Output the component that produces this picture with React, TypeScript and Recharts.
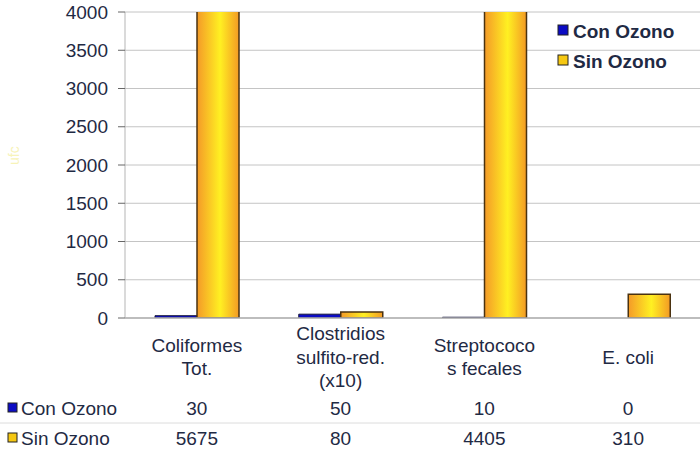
import React from "react";
import {
  BarChart,
  Bar,
  XAxis,
  YAxis,
  CartesianGrid,
  Legend,
} from "recharts";

const categories = ["Coliformes Tot.", "Clostridios sulfito-red. (x10)", "Streptococos fecales", "E. coli"];
const categoryLines = [
  ["Coliformes", "Tot."],
  ["Clostridios", "sulfito-red.", "(x10)"],
  ["Streptococo", "s fecales"],
  ["E. coli"],
];
const conOzono = [30, 50, 10, 0];
const sinOzono = [5675, 80, 4405, 310];
const yTicks = [0, 500, 1000, 1500, 2000, 2500, 3000, 3500, 4000];
const seriesNames = ["Con Ozono", "Sin Ozono"];

const data = categories.map((cat, i) => ({
  cat,
  con: conOzono[i],
  sin: sinOzono[i],
}));

const FONT = "'Liberation Sans', Arial, sans-serif";
const TEXT = "#1f2a44";
const BLUE = "#0c0cc4";
const YELLOW = "#f6c812";

function CatTick({ x, y, index }: any) {
  const lines = categoryLines[index] || [];
  const lh = 23.5;
  const top = y + 39 - ((lines.length - 1) * lh) / 2;
  return (
    <g>
      {lines.map((l, k) => (
        <text
          key={k}
          x={x}
          y={top + k * lh}
          textAnchor="middle"
          dominantBaseline="central"
          fontSize={19}
          fontFamily={FONT}
          fill={TEXT}
        >
          {l}
        </text>
      ))}
    </g>
  );
}

function RowLabel({ y, name, color }: { y: number; name: string; color: string }) {
  return (
    <g>
      <rect x={8} y={y - 5} width={9} height={9} fill={color} stroke="#222" strokeWidth={1} />
      <text x={21} y={y} dominantBaseline="central" fontSize={19} fontFamily={FONT} fill={TEXT}>
        {name}
      </text>
    </g>
  );
}

function ConTick({ x, y, index }: any) {
  const cy = y + 10;
  return (
    <g>
      {index === 0 && <RowLabel y={cy} name={seriesNames[0]} color={BLUE} />}
      <text x={x} y={cy} textAnchor="middle" dominantBaseline="central" fontSize={19} fontFamily={FONT} fill={TEXT}>
        {conOzono[index]}
      </text>
    </g>
  );
}

function SinTick({ x, y, index }: any) {
  const cy = y + 15;
  return (
    <g>
      {index === 0 && (
        <>
          <line x1={0} x2={700} y1={y} y2={y} stroke="#dcdcdc" strokeWidth={1} />
          <RowLabel y={cy} name={seriesNames[1]} color={YELLOW} />
        </>
      )}
      <text x={x} y={cy} textAnchor="middle" dominantBaseline="central" fontSize={19} fontFamily={FONT} fill={TEXT}>
        {sinOzono[index]}
      </text>
    </g>
  );
}

function TopLegend() {
  const items = [
    { name: seriesNames[0], color: BLUE },
    { name: seriesNames[1], color: YELLOW },
  ];
  return (
    <svg width={160} height={70} style={{ overflow: "visible", display: "block" }}>
      {items.map((it, i) => (
        <g key={it.name} transform={`translate(0, ${i * 30})`}>
          <rect x={3} y={7} width={10} height={10} fill={it.color} stroke="#222" strokeWidth={1} />
          <text x={18} y={13} dominantBaseline="central" fontSize={19} fontWeight="bold" fontFamily={FONT} fill={TEXT}>
            {it.name}
          </text>
        </g>
      ))}
    </svg>
  );
}

export default function App() {
  return (
    <div style={{ position: "absolute", left: 0, top: 0, width: 700, height: 455, background: "#fff" }}>
      <BarChart
        width={700}
        height={455}
        data={data}
        margin={{ top: 12, right: 0, left: 0, bottom: 3 }}
        barGap={0}
        barSize={42}
      >
        <defs>
          <linearGradient id="gradSin" x1="0" y1="0" x2="1" y2="0">
            <stop offset="0%" stopColor="#f49a28" />
            <stop offset="55%" stopColor="#fff022" />
            <stop offset="100%" stopColor="#f39a24" />
          </linearGradient>
        </defs>
        <CartesianGrid vertical={false} stroke="#c4c4c4" />
        <XAxis
          xAxisId="cat"
          dataKey="cat"
          height={80}
          tickSize={0}
          tickMargin={0}
          tickLine={false}
          axisLine={{ stroke: "#b0b0b0", strokeWidth: 1.5 }}
          tick={<CatTick />}
          interval={0}
        />
        <XAxis
          xAxisId="con"
          dataKey="cat"
          height={25}
          tickSize={0}
          tickMargin={0}
          tickLine={false}
          axisLine={false}
          tick={<ConTick />}
          interval={0}
        />
        <XAxis
          xAxisId="sin"
          dataKey="cat"
          height={29}
          tickSize={0}
          tickMargin={0}
          tickLine={false}
          axisLine={false}
          tick={<SinTick />}
          interval={0}
        />
        <YAxis
          width={125}
          domain={[0, 4000]}
          ticks={yTicks}
          allowDataOverflow
          tickSize={7}
          tickMargin={10}
          tickLine={{ stroke: "#666" }}
          axisLine={{ stroke: "#b5b5b5" }}
          tick={{ fontSize: 19, fontFamily: FONT, fill: TEXT }}
          label={{
            value: "ufc",
            angle: -90,
            position: "insideLeft",
            offset: 14,
            fill: "#f7f3b8",
            fontSize: 14,
            fontFamily: FONT,
          }}
        />
        <Legend
          verticalAlign="middle"
          align="center"
          layout="horizontal"
          content={<TopLegend />}
          wrapperStyle={{ position: "absolute", left: 555, top: 18, width: 160, height: 70 }}
        />
        <Bar
          xAxisId="cat"
          dataKey="con"
          name={seriesNames[0]}
          fill={BLUE}
          stroke="#15153a"
          strokeWidth={1}
          isAnimationActive={false}
        />
        <Bar
          xAxisId="cat"
          dataKey="sin"
          name={seriesNames[1]}
          fill="url(#gradSin)"
          stroke="#4a3210"
          strokeWidth={1.5}
          isAnimationActive={false}
        />
      </BarChart>
    </div>
  );
}
